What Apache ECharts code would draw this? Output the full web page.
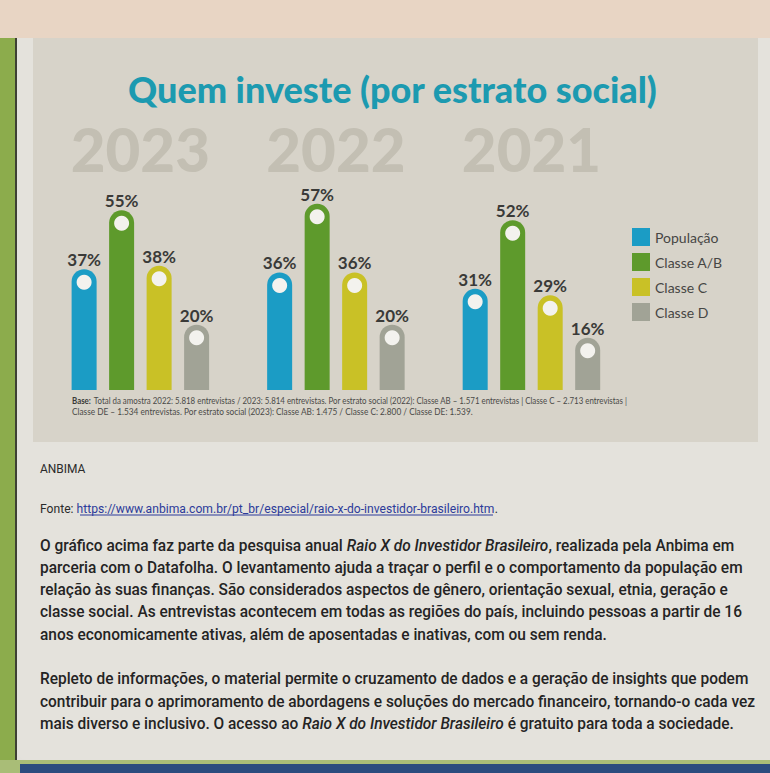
<!DOCTYPE html>
<html><head><meta charset="utf-8">
<script src="https://cdn.jsdelivr.net/npm/echarts@6/dist/echarts.min.js"></script>
<style>html,body{margin:0;padding:0;background:#e3e1db}#c{width:770px;height:773px}</style>
</head><body><div id="c"></div>
<script>
// ---- data ----
const years = ['2023', '2022', '2021'];
const seriesNames = ['População', 'Classe A/B', 'Classe C', 'Classe D'];
const populacao = [37, 36, 31];
const classeAB = [55, 57, 52];
const classeC = [38, 36, 29];
const classeD = [20, 20, 16];
const seriesValues = [populacao, classeAB, classeC, classeD];
const colors = ['#1b9cc5', '#5e9a2c', '#c9c126', '#a1a396'];

const titleText = 'Quem investe (por estrato social)';
const footLine1 = 'Total da amostra 2022: 5.818 entrevistas / 2023: 5.814 entrevistas. Por estrato social (2022): Classe AB – 1.571 entrevistas | Classe C – 2.713 entrevistas |';
const footLine2 = 'Classe DE – 1.534 entrevistas. Por estrato social (2023): Classe AB: 1.475 / Classe C: 2.800 / Classe DE: 1.539.';
const sourceUrl = 'https://www.anbima.com.br/pt_br/especial/raio-x-do-investidor-brasileiro.htm';
const paragraphLines = [
  [['O gráfico acima faz parte da pesquisa anual ', 'n'], ['Raio X do Investidor Brasileiro', 'i'], [', realizada pela Anbima em', 'n']],
  [['parceria com o Datafolha. O levantamento ajuda a traçar o perfil e o comportamento da população em', 'n']],
  [['relação às suas finanças. São considerados aspectos de gênero, orientação sexual, etnia, geração e', 'n']],
  [['classe social. As entrevistas acontecem em todas as regiões do país, incluindo pessoas a partir de 16', 'n']],
  [['anos economicamente ativas, além de aposentadas e inativas, com ou sem renda.', 'n']],
  null,
  [['Repleto de informações, o material permite o cruzamento de dados e a geração de insights que podem', 'n']],
  [['contribuir para o aprimoramento de abordagens e soluções do mercado financeiro, tornando-o cada vez', 'n']],
  [['mais diverso e inclusivo. O acesso ao ', 'n'], ['Raio X do Investidor Brasileiro', 'i'], [' é gratuito para toda a sociedade.', 'n']]
];

const chart = echarts.init(document.getElementById('c'), null, { renderer: 'svg' });

const series = seriesNames.map((name, k) => ({
  name: name,
  type: 'bar',
  data: seriesValues[k],
  barWidth: 25,
  barGap: '50%',
  itemStyle: { color: colors[k], borderRadius: [12.5, 12.5, 0, 0] },
  label: {
    show: true, position: 'top', distance: 1, formatter: '{c}%',
    fontFamily: 'Lato', fontWeight: 'bold', fontSize: 17, lineHeight: 17, color: '#3a3a38'
  },
  markPoint: {
    symbol: 'circle', symbolSize: 15, symbolOffset: [0, 13],
    itemStyle: { color: '#f3f2ee' },
    label: { show: false },
    data: seriesValues[k].map((v, i) => ({ coord: [i, v] }))
  }
}));

const paraGraphics = [];
const lineY0 = 545, lineStep = 22.3;
paragraphLines.forEach((parts, idx) => {
  if (!parts) return;
  paraGraphics.push({
    type: 'text', x: 40, y: lineY0 + idx * lineStep, scaleX: 0.966,
    style: {
      text: parts.map(p => '{' + p[1] + '|' + p[0] + '}').join(''),
      verticalAlign: 'middle',
      rich: {
        n: { fontFamily: 'Roboto', fontSize: 16, fontWeight: 500, fill: '#242424', color: '#242424' },
        i: { fontFamily: 'Roboto', fontSize: 16, fontWeight: 500, fontStyle: 'italic', fill: '#242424', color: '#242424' }
      }
    }
  });
});

const option = {
  animation: false,
  backgroundColor: '#e3e1db',
  textStyle: { fontFamily: 'Lato' },
  title: {
    text: titleText, left: 128, top: 71, textAlign: 'left', padding: 0,
    textStyle: { fontFamily: 'Lato', fontWeight: 900, fontSize: 36, color: '#1c9ab0' }
  },
  legend: {
    data: seriesNames, orient: 'vertical', left: 627, top: 223,
    itemWidth: 18, itemHeight: 18, itemGap: 7, icon: 'rect',
    textStyle: { fontFamily: 'Lato', fontSize: 14, color: '#464644' }
  },
  grid: { left: 42.6, right: 140.8, top: 194, bottom: 383 },
  xAxis: {
    type: 'category', data: years, position: 'top',
    axisLine: { show: false }, axisTick: { show: false },
    axisLabel: {
      margin: 45, verticalAlign: 'middle', lineHeight: 42,
      fontFamily: 'Lato', fontWeight: 900, fontSize: 60, color: '#c3bfb3'
    }
  },
  yAxis: { type: 'value', min: 0, max: 60, show: false, splitLine: { show: false } },
  graphic: [
    { type: 'rect', z: -10, shape: { x: 0, y: 0, width: 770, height: 40 }, style: { fill: '#e8d5c4' } },
    { type: 'rect', z: -10, shape: { x: 750, y: 0, width: 20, height: 446 }, style: { fill: '#e8d6c6' } },
    { type: 'rect', z: -10, shape: { x: 0, y: 38, width: 15, height: 735 }, style: { fill: '#8cac4c' } },
    { type: 'rect', z: -10, shape: { x: 15, y: 38, width: 2, height: 722 }, style: { fill: '#3e4034' } },
    { type: 'rect', z: -9, shape: { x: 17, y: 38, width: 753, height: 722, r: [0, 0, 0, 10] }, style: { fill: '#e4e2dc' } },
    { type: 'rect', z: -10, shape: { x: 0, y: 760, width: 770, height: 13 }, style: { fill: '#a9bd77' } },
    { type: 'rect', z: -10, shape: { x: 20, y: 764, width: 750, height: 9 }, style: { fill: '#2b4c7e' } },
    { type: 'rect', z: -8, shape: { x: 33, y: 38, width: 725, height: 404 }, style: { fill: '#d7d3c9' } },
    {
      type: 'text', x: 72, y: 401, scaleX: 0.878,
      style: {
        text: '{b|Base:} {n|' + footLine1 + '}', verticalAlign: 'middle',
        rich: {
          b: { fontFamily: 'Lato', fontSize: 9, fontWeight: 'bold', fill: '#3a3a38' },
          n: { fontFamily: 'Lato', fontSize: 9, fill: '#4a4a48' }
        }
      }
    },
    {
      type: 'text', x: 72, y: 411, scaleX: 0.92,
      style: { text: footLine2, verticalAlign: 'middle', fontFamily: 'Lato', fontSize: 9, fill: '#4a4a48' }
    },
    {
      type: 'text', x: 40, y: 468, scaleX: 0.92,
      style: { text: 'ANBIMA', verticalAlign: 'middle', fontFamily: 'Roboto', fontSize: 13, fill: '#2a2a2a' }
    },
    {
      type: 'text', x: 40, y: 508, scaleX: 0.933,
      style: {
        text: '{n|Fonte: }{l|' + sourceUrl + '}{n|.}', verticalAlign: 'middle',
        rich: {
          n: { fontFamily: 'Roboto', fontSize: 13, fill: '#2a2a2a' },
          l: { fontFamily: 'Roboto', fontSize: 13, fill: '#2c3b9a' }
        }
      }
    },
    { type: 'line', shape: { x1: 80, y1: 515, x2: 493, y2: 515 }, style: { stroke: '#2c3b9a', lineWidth: 1 } }
  ].concat(paraGraphics),
  series: series
};
chart.setOption(option);
</script>
</body></html>
